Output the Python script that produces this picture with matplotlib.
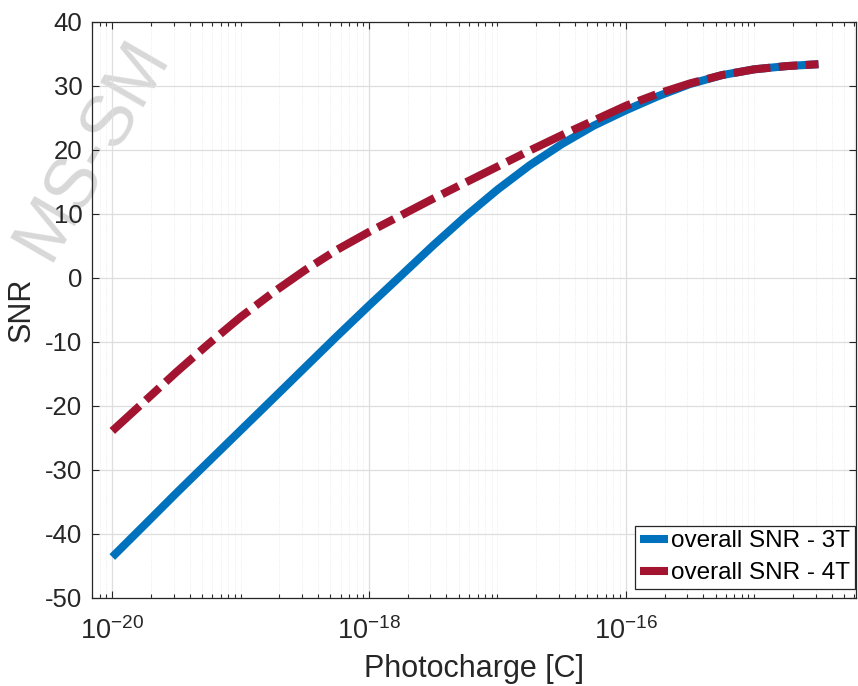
import matplotlib
matplotlib.use('Agg')
import matplotlib.pyplot as plt
from matplotlib.ticker import FixedLocator, FixedFormatter, LogLocator, NullFormatter

plt.rcParams['font.family'] = ['Liberation Sans', 'DejaVu Sans']
plt.rcParams['mathtext.fontset'] = 'custom'
plt.rcParams['mathtext.rm'] = 'Liberation Sans'
plt.rcParams['axes.unicode_minus'] = False

# photocharge [C]
charge = [1.0e-20, 1.78e-20, 3.16e-20, 5.62e-20,
          1.0e-19, 1.78e-19, 3.16e-19, 5.62e-19,
          1.0e-18, 1.78e-18, 3.16e-18, 5.62e-18,
          1.0e-17, 1.78e-17, 3.16e-17, 5.62e-17,
          1.0e-16, 1.78e-16, 3.16e-16, 5.62e-16,
          1.0e-15, 1.78e-15, 3.16e-15]

# SNR [dB]
snr_3t = [-43.6, -38.6, -33.6, -28.7,
          -23.8, -18.9, -14.0, -9.1,
          -4.3, 0.4, 5.1, 9.6,
          13.8, 17.6, 20.9, 23.8,
          26.2, 28.4, 30.3, 31.7,
          32.6, 33.1, 33.4]
snr_4t = [-23.9, -19.3, -14.7, -10.3,
          -6.1, -2.3, 1.2, 4.4,
          7.2, 9.8, 12.4, 14.9,
          17.4, 19.9, 22.3, 24.6,
          26.9, 28.8, 30.4, 31.7,
          32.6, 33.1, 33.4]

labels = ['overall SNR - 3T', 'overall SNR - 4T']
xticks = [1e-20, 1e-18, 1e-16]
xticklabels = [r'$\mathregular{10^{-20}}$', r'$\mathregular{10^{-18}}$', r'$\mathregular{10^{-16}}$']
yticks = list(range(-50, 41, 10))

fig = plt.figure(figsize=(8.58, 6.86), dpi=100)
ax = fig.add_axes([0.1072, 0.1283, 0.8905, 0.8397])
ax.set_facecolor('none')

dark = '#262626'
ax.plot(charge, snr_3t, color='#0072BD', lw=5.8, solid_capstyle='butt',
        solid_joinstyle='round', label=labels[0], zorder=3)
ax.plot(charge, snr_4t, color='#A2142F', lw=5.8, dash_capstyle='butt',
        linestyle=(0, (4.6, 1.05, 2.3, 1.05)), label=labels[1], zorder=4)

ax.set_xscale('log')
ax.set_xlim(6.95e-21, 6.2e-15)
ax.set_ylim(-50, 40)

ax.xaxis.set_major_locator(FixedLocator(xticks))
ax.xaxis.set_major_formatter(FixedFormatter(xticklabels))
ax.xaxis.set_minor_locator(LogLocator(base=10, subs=range(1, 10), numticks=50))
ax.xaxis.set_minor_formatter(NullFormatter())
ax.set_yticks(yticks)

ax.tick_params(which='both', direction='in', top=True, right=True, colors=dark, labelcolor=dark)
ax.tick_params(which='major', length=5, width=0.8)
ax.tick_params(which='minor', length=2.6, width=0.8)
ax.tick_params(axis='x', labelsize=19.5, pad=14)
ax.tick_params(axis='y', labelsize=18.5, pad=7)
for s in ax.spines.values():
    s.set_color(dark)
    s.set_linewidth(0.9)

ax.grid(True, which='major', color='#dedede', lw=0.9)
ax.grid(True, which='minor', axis='x', color='#e8e8e8', lw=0.6, linestyle=':')
ax.set_axisbelow(True)

ax.set_xlabel('Photocharge [C]', fontsize=22, color=dark, labelpad=6)
ax.set_ylabel('SNR', fontsize=22, color=dark, labelpad=6)

leg = ax.legend(loc='lower right', bbox_to_anchor=(0.9985, 0.0155), borderaxespad=0,
                fontsize=17.5, handlelength=1.15, handletextpad=0.12, borderpad=0.2,
                labelspacing=0.4, fancybox=False, framealpha=1, edgecolor=dark)
leg.get_frame().set_linewidth(0.9)

# faint watermark in the upper left, behind everything
fig.text(0.003, 0.655, 'MS-SM', rotation=60, fontsize=52, color='#d8d8d8',
         ha='left', va='top', rotation_mode='anchor', zorder=-1)

fig.savefig('out.png', dpi=100)
